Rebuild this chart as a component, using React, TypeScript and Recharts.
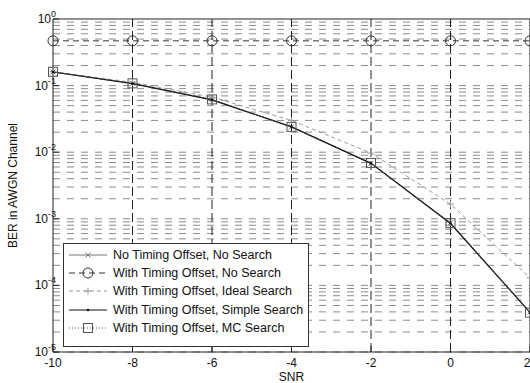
import React from "react";
import { LineChart, Line, XAxis, YAxis, ReferenceLine, Legend } from "recharts";

// SNR points (dB)
const snr = [-10, -8, -6, -4, -2, 0, 2];

// BER
const noOffset = [0.16, 0.108, 0.062, 0.024, 0.0068, 8.7e-4, 4.0e-5];
const offsetNoSearch = [0.47, 0.47, 0.47, 0.47, 0.47, 0.47, 0.47];
const idealSearch = [0.162, 0.112, 0.067, 0.03, 0.0097, 1.66e-3, 1.3e-4];
const simpleSearch = [0.16, 0.107, 0.061, 0.024, 0.0068, 8.5e-4, 3.9e-5];
const mcSearch = [0.161, 0.108, 0.062, 0.024, 0.0069, 8.6e-4, 3.9e-5];

const seriesNames = [
  "No Timing Offset, No Search",
  "With Timing Offset, No Search",
  "With Timing Offset, Ideal Search",
  "With Timing Offset, Simple Search",
  "With Timing Offset, MC Search",
];

const xTicks = [-10, -8, -6, -4, -2, 0, 2];
const yExponents = [-5, -4, -3, -2, -1, 0];
const yTicks = yExponents.map((e) => Math.pow(10, e));
const mantissas = [1, 2, 3, 4, 5, 6, 7, 8, 9];

const data = snr.map((s, i) => ({
  snr: s,
  noOffset: noOffset[i],
  offsetNoSearch: offsetNoSearch[i],
  idealSearch: idealSearch[i],
  simpleSearch: simpleSearch[i],
  mcSearch: mcSearch[i],
}));

// log grid lines, one per mantissa per decade
const hGrid: number[] = [];
yExponents.slice(0, -1).forEach((e) =>
  mantissas.forEach((m) => hGrid.push(m * Math.pow(10, e)))
);

const FONT = "'Liberation Sans', Arial, sans-serif";

type MarkKind = "x" | "circle" | "plus" | "dot" | "square";

function Mark({ kind, cx, cy, color }: { kind: MarkKind; cx: number; cy: number; color: string }) {
  if (kind === "circle")
    return <circle cx={cx} cy={cy} r={5} fill="none" stroke={color} strokeWidth={1} />;
  if (kind === "square")
    return <rect x={cx - 4.5} y={cy - 4.5} width={9} height={9} fill="none" stroke={color} strokeWidth={1} />;
  if (kind === "plus")
    return (
      <g stroke={color} strokeWidth={1}>
        <line x1={cx - 3.5} y1={cy} x2={cx + 3.5} y2={cy} />
        <line x1={cx} y1={cy - 3.5} x2={cx} y2={cy + 3.5} />
      </g>
    );
  if (kind === "x")
    return (
      <g stroke={color} strokeWidth={1}>
        <line x1={cx - 2.5} y1={cy - 2.5} x2={cx + 2.5} y2={cy + 2.5} />
        <line x1={cx - 2.5} y1={cy + 2.5} x2={cx + 2.5} y2={cy - 2.5} />
      </g>
    );
  return <circle cx={cx} cy={cy} r={1.3} fill={color} />;
}

const styles: { key: string; color: string; dash?: string; mark: MarkKind; width: number }[] = [
  { key: "noOffset", color: "#777", mark: "x", width: 1 },
  { key: "offsetNoSearch", color: "#333", dash: "6 4", mark: "circle", width: 1 },
  { key: "idealSearch", color: "#999", dash: "4 3", mark: "plus", width: 1 },
  { key: "simpleSearch", color: "#111", mark: "dot", width: 1.2 },
  { key: "mcSearch", color: "#555", dash: "1 2", mark: "square", width: 1 },
];

function YTick({ x, y, payload }: any) {
  const e = Math.round(Math.log10(payload.value));
  return (
    <text x={x - 3} y={y + 4} textAnchor="end" fontSize={12} fontFamily={FONT} fill="#111">
      10
      <tspan dy={-6} fontSize={9}>
        {e}
      </tspan>
    </text>
  );
}

function LegendBox() {
  return (
    <div
      style={{
        width: 246,
        height: 104,
        boxSizing: "border-box",
        border: "1px solid #333",
        background: "#fff",
        paddingTop: 2,
        fontFamily: FONT,
        fontSize: 12.5,
        color: "#111",
      }}
    >
      {styles.map((s, i) => (
        <div key={s.key} style={{ height: 18.2, display: "flex", alignItems: "center", whiteSpace: "nowrap" }}>
          <svg width={48} height={18} style={{ display: "block" }}>
            <line x1={5} y1={9} x2={43} y2={9} stroke={s.color} strokeWidth={s.width} strokeDasharray={s.dash} />
            <Mark kind={s.mark} cx={24} cy={9} color={s.color} />
          </svg>
          <span style={{ marginLeft: 1 }}>{seriesNames[i]}</span>
        </div>
      ))}
    </div>
  );
}

export default function App() {
  return (
    <div style={{ position: "absolute", left: 0, top: 0, width: 530, height: 383, background: "#fff" }}>
      <LineChart width={530} height={383} data={data} margin={{ top: 19, right: 0, bottom: 0, left: 0 }}>
        {hGrid.map((v) => (
          <ReferenceLine key={"h" + v} y={v} stroke="#8c8c8c" strokeDasharray="7 7" strokeWidth={1} />
        ))}
        {xTicks.slice(1, -1).map((v) => (
          <ReferenceLine key={"v" + v} x={v} stroke="#222" strokeDasharray="9 4" strokeWidth={1} />
        ))}
        <ReferenceLine y={1} stroke="#222" strokeWidth={1} />
        <ReferenceLine x={2} stroke="#222" strokeWidth={1} />
        <XAxis
          dataKey="snr"
          type="number"
          domain={[-10, 2]}
          ticks={xTicks}
          height={31}
          stroke="#222"
          tickSize={-6}
          tickMargin={12}
          tick={{ fontSize: 12, fontFamily: FONT, fill: "#111" }}
          label={{ value: "SNR", position: "insideBottom", offset: 2, fontSize: 12, fontFamily: FONT, fill: "#111" }}
        />
        <YAxis
          scale="log"
          type="number"
          domain={[1e-5, 1]}
          ticks={yTicks}
          allowDataOverflow
          width={53}
          stroke="#222"
          tickSize={-6}
          tickMargin={0}
          tick={<YTick />}
          label={{
            value: "BER in AWGN Channel",
            angle: -90,
            position: "insideLeft",
            offset: 13,
            style: { textAnchor: "middle" },
            fontSize: 12,
            fontFamily: FONT,
            fill: "#111",
          }}
        />
        {styles.map((s, i) => (
          <Line
            key={s.key}
            dataKey={s.key}
            name={seriesNames[i]}
            type="linear"
            stroke={s.color}
            strokeWidth={s.width}
            strokeDasharray={s.dash}
            isAnimationActive={false}
            dot={(p: any) => <Mark key={s.key + p.index} kind={s.mark} cx={p.cx} cy={p.cy} color={s.color} />}
            activeDot={false}
          />
        ))}
        <Legend
          layout="vertical"
          align="center"
          verticalAlign="middle"
          wrapperStyle={{ left: 63, top: 243, width: 246, height: 104 }}
          content={() => <LegendBox />}
        />
      </LineChart>
    </div>
  );
}
